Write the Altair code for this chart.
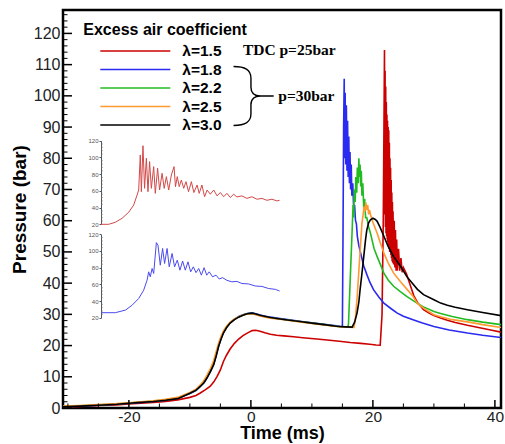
import altair as alt
import pandas as pd

# ---------------- data ----------------
series_names = ["λ=1.5", "λ=1.8", "λ=2.2", "λ=2.5", "λ=3.0"]
series_colors = ["#cc0000", "#2a2af0", "#22bb22", "#ff9a30", "#000000"]

# shared time base (ms) for the compression part of the lean cases
t_lean_base = [-30.8, -28, -25, -22, -20, -18, -16, -14, -12, -10, -9, -8.3, -7.7, -7.2, -6.6,
               -6.1, -5.7, -5.3, -4.9, -4.5, -4.0, -3.4, -2.7, -2.0, -1.3, -0.6, 0.2, 0.8, 1.5,
               2.2, 3.2, 4.5, 6.0, 8.0, 10.0, 12.0, 14.0]

# lambda = 1.5 (TDC p = 25 bar)
t_15 = [-30.8, -28, -25, -22, -20, -18, -16, -14, -12, -10, -9, -8.3, -7.5, -6.7, -6.1, -5.6,
        -5.0, -4.5, -4.0, -3.4, -2.7, -2.0, -1.3, -0.6, 0.2, 0.8, 1.5, 2.3, 3.2, 4.2, 5.4, 7.0,
        8.5, 10.8, 12.5, 14.5, 16.3, 18.0, 19.5, 20.5, 21.2, 21.5, 21.7, 21.85, 21.9,
        21.95, 22.0, 22.05, 22.1, 22.15, 22.2, 22.25, 22.3, 22.35, 22.4, 22.45, 22.5, 22.55,
        22.6, 22.65, 22.7, 22.75, 22.8, 22.85, 22.9, 22.95, 23.0, 23.05, 23.1, 23.15, 23.2,
        23.25, 23.3, 23.4, 23.5, 23.6, 23.7, 23.8, 23.9, 24.0, 24.2, 24.4, 24.6, 24.8, 25.0,
        25.5, 26.1, 26.7, 27.3, 28.3, 29.2, 30.0, 31.1, 32.2, 33.5, 35.5, 37.5, 39.5, 41.0]
p_15 = [0.3, 0.5, 0.8, 1.0, 1.3, 1.5, 1.8, 2.1, 2.6, 3.4, 4.0, 4.8, 5.8, 6.9, 8.3, 9.9,
        12.2, 14.9, 16.9, 18.9, 20.7, 22.1, 23.2, 24.0, 24.8, 24.9, 24.6, 24.1, 23.6, 23.3, 23.1, 22.8,
        22.5, 22.1, 21.8, 21.4, 21.0, 20.7, 20.4, 20.2, 20.1, 30, 60, 100, 114.7,
        62, 108, 58, 103, 56, 98, 55, 94, 54, 92, 53, 90, 52,
        89, 51, 85, 50, 80, 50, 77, 49, 73, 48, 69, 47, 66,
        46.5, 63, 46, 60, 45, 57, 44, 54, 44, 51, 44, 48, 43.5, 45,
        43, 39.5, 36, 33.8, 31.5, 30.4, 29.6, 28.8, 28.1, 27.4, 26.5, 25.7, 24.9, 24.3]

# lambda = 1.8
t_18 = t_lean_base + [14.6, 15.0, 15.1, 15.2, 15.3, 15.35, 15.45, 15.55, 15.65, 15.75, 15.85,
                      15.95, 16.05, 16.15, 16.25, 16.35, 16.45, 16.55, 16.7, 16.85, 17.0, 17.15,
                      17.3, 17.45, 17.7, 18.0, 18.5, 19.0, 19.5, 20.1, 21.0, 21.8, 23.0, 24.0,
                      25.0, 26.7, 28.0, 30.0, 32.5, 35.5, 38.0, 41.0]
p_18 = [0.4, 0.6, 0.9, 1.2, 1.5, 1.8, 2.1, 2.5, 3.1, 4.6, 5.6, 6.9, 8.1, 9.7, 11.8,
        14.0, 16.8, 19.8, 22.2, 24.2, 25.9, 27.3, 28.4, 29.3, 29.9, 30.3, 30.5, 30.2, 29.8,
        29.5, 29.1, 28.7, 28.3, 27.8, 27.3, 26.8, 26.3] + \
       [26.1, 26.0, 55, 90, 105.5, 80, 101, 78, 97, 76, 92,
        74, 87, 72, 82, 70, 78, 68, 72, 64, 65, 60,
        59, 55, 52, 49.5, 45.5, 42.8, 40.3, 37.9, 35.5, 33.6, 31.8, 30.4,
        29.4, 28.2, 27.3, 26.1, 25.0, 24.0, 23.3, 22.6]

# lambda = 2.2
t_22 = t_lean_base + [15.0, 15.9, 16.0, 16.2, 16.4, 16.6, 16.75, 16.85, 16.95, 17.1,
                      17.2, 17.35, 17.45, 17.6, 17.7, 17.8, 17.9, 18.0, 18.1, 18.2,
                      18.35, 18.5, 18.65, 18.8, 19.0, 19.3, 19.6, 20.2, 20.7, 21.8,
                      22.5, 23.4, 24.5, 25.6, 27.3, 28.3, 30.0, 31.1, 33.0, 35.5, 38.0, 41.0]
p_22 = [0.5, 0.7, 1.0, 1.3, 1.6, 1.9, 2.2, 2.6, 3.2, 4.7, 5.7, 7.0, 8.3, 9.9, 12.0,
        14.3, 17.1, 20.1, 22.4, 24.3, 25.9, 27.3, 28.4, 29.2, 29.8, 30.2, 30.3, 30.0, 29.6,
        29.3, 28.9, 28.6, 28.2, 27.7, 27.2, 26.7, 26.2] + \
       [26.0, 25.9, 27, 37, 47, 57, 65, 61, 70, 66,
        74, 69, 77, 72, 80, 74, 78, 71, 76, 68,
        72, 64, 67, 61, 61, 58, 56, 51, 48.5, 43.2,
        41, 39, 37.3, 35.7, 33.5, 32.4, 30.9, 30.3, 29.3, 28.3, 27.5, 26.7]

# lambda = 2.5
t_25 = t_lean_base + [16.0, 16.9, 17.1, 17.4, 17.7, 18.0, 18.2, 18.4, 18.55, 18.7,
                      18.85, 19.0, 19.15, 19.3, 19.45, 19.6, 20.0, 20.7, 21.2, 21.8,
                      22.5, 23.4, 24.5, 25.6, 26.5, 27.3, 28.3, 30.0, 31.1, 33.0,
                      35.5, 38.0, 41.0]
p_25 = [0.6, 0.8, 1.1, 1.4, 1.7, 2.0, 2.3, 2.8, 3.4, 5.0, 6.0, 7.4, 8.8, 10.5, 12.8,
        15.2, 18.0, 20.8, 23.0, 24.7, 26.2, 27.5, 28.5, 29.2, 29.8, 30.1, 30.2, 29.9, 29.5,
        29.2, 28.8, 28.5, 28.1, 27.6, 27.1, 26.6, 26.1] + \
       [25.9, 25.8, 28, 35, 44, 53, 59, 62, 64.5, 63,
        65.8, 63.5, 65, 62, 63.5, 62, 59.5, 56, 53, 49.6,
        46.5, 43.2, 40.5, 38, 36, 33.5, 32, 29.9, 29.2, 28.3,
        27.6, 26.7, 25.8]

# lambda = 3.0
t_30 = t_lean_base + [15.5, 16.6, 17.0, 17.4, 17.7, 17.9, 18.2, 18.5, 18.8, 19.0,
                      19.3, 19.6, 20.0, 20.4, 20.7, 21.2, 21.8, 22.5, 23.4, 24.5,
                      25.6, 27.3, 28.3, 30.0, 31.1, 32.2, 33.5, 35.5, 38.0, 41.0]
p_30 = [0.4, 0.6, 0.9, 1.2, 1.5, 1.8, 2.1, 2.5, 3.0, 4.7, 5.7, 6.9, 8.1, 9.6, 11.8,
        13.9, 16.6, 19.7, 22.0, 24.0, 25.7, 27.2, 28.3, 29.1, 29.7, 30.2, 30.4, 30.1, 29.7,
        29.4, 29.0, 28.6, 28.2, 27.7, 27.2, 26.7, 26.2] + \
       [26.0, 25.9, 27.5, 30.4, 34, 37.9, 43, 48.5, 54, 57,
        59.3, 60.3, 60.8, 60.4, 59.8, 57.8, 55, 51.8, 48.5, 45.5,
        42, 38, 36.3, 34.7, 33.6, 32.9, 32.3, 31.5, 30.6, 29.6]

# insets: normalised time (0-100) and pressure (bar)
inset1_u = [0, 4.3, 8, 11.8, 15.5, 18.3, 20.2, 21.1, 22, 22.6, 23.5, 24.4, 25.4, 26.3, 27.2,
            28.2, 29.5, 30.4, 31.7, 32.8, 34.2, 35.4, 36.6, 37.9, 39.4, 40.9, 41.7, 42.7, 43.8,
            45, 46.3, 47.6, 49, 50.6, 52, 53.8, 55, 56.5, 58, 59.4, 61.2, 63.1, 65, 66.8, 68.7,
            70.5, 72.4, 74.3, 76.1, 78.9, 81.7, 84.5, 87.3, 90.1, 92.9, 95.7, 98.5, 100]
inset1_p = [20, 20, 22.4, 27.2, 34.4, 43, 55, 61, 103, 59, 114, 63, 99, 59, 95,
            63, 89, 57, 87, 61, 81, 63, 77, 61, 79, 89, 65, 77, 65,
            73, 63, 71, 59, 71, 58, 67, 57, 67, 53, 61, 56, 61, 54, 58, 53,
            57, 52, 56, 52.7, 54, 51, 53, 50, 51, 48.7, 50, 48, 48.7]

inset2_u = [0, 8, 13.8, 17.4, 21.1, 23.9, 25.8, 26.7, 27.6, 28.6, 29.5, 31, 31.9, 33.2, 34.5,
            35.6, 37, 38.2, 39.8, 41.2, 42.7, 44.2, 45.7, 47.2, 48.7, 50.2, 51.7, 53.2, 54.7,
            56.2, 57.7, 59.2, 60.6, 62.5, 64.4, 66.2, 68.1, 70.5, 73.3, 76.1, 78.9, 82.6, 86.4,
            90.1, 93.8, 97.6, 100]
inset2_p = [26, 26, 29.2, 35, 43, 53, 65, 75, 69, 79, 73, 110, 107, 83, 103,
            85, 103, 81, 97, 81, 89, 77, 88, 77, 87, 75, 81, 74, 79,
            71, 80, 71, 75, 69, 71, 66.4, 68, 64.8, 63, 63.5, 61, 60.5, 58,
            57.5, 55, 54, 52]

# tick values
y_major = [0, 10, 20, 30, 40, 50, 60, 70, 80, 90, 100, 110, 120]
y_minor = [v for v in range(2, 127, 2) if v % 10 != 0]
x_major = [-20, 0, 20, 40]
x_minor = [-30, -25, -15, -10, -5, 5, 10, 15, 25, 30, 35]
inset_major = [20, 40, 60, 80, 100, 120]
inset_minor = [v for v in range(24, 120, 4) if v % 20 != 0]

# ---------------- tables ----------------
rows = []
for name, ts, ps in zip(series_names, [t_15, t_18, t_22, t_25, t_30],
                        [p_15, p_18, p_22, p_25, p_30]):
    for i, (t, p) in enumerate(zip(ts, ps)):
        rows.append({"series": name, "t": t, "p": p, "i": i})
df_main = pd.DataFrame(rows)
df_in1 = pd.DataFrame({"u": inset1_u, "p": inset1_p, "i": range(len(inset1_u))})
df_in2 = pd.DataFrame({"u": inset2_u, "p": inset2_p, "i": range(len(inset2_u))})

W, H = 438, 398
FONT = "Liberation Sans"

main_x = alt.Scale(domain=[-30.8, 41.0], nice=False, zero=False)
main_y = alt.Scale(domain=[0, 127.5], nice=False, zero=False)
color_scale = alt.Scale(domain=series_names, range=series_colors)

x_axis = alt.Axis(values=x_major, ticks=False, domain=False, grid=False,
                  labelFontSize=15.5, labelFont=FONT, labelColor="#222",
                  labelPadding=1, labelExpr="'' + datum.value",
                  title="Time (ms)", titleFont=FONT, titleFontSize=18,
                  titleFontWeight="bold", titleColor="#000", titlePadding=0)
y_axis = alt.Axis(values=y_major, ticks=False, domain=False, grid=False,
                  labelFontSize=16, labelFont=FONT, labelColor="#222",
                  labelPadding=3, title="Pressure (bar)", titleFont=FONT,
                  titleFontSize=19, titleFontWeight="bold", titleColor="#000",
                  titlePadding=4)

lines = alt.Chart(df_main).mark_line(strokeWidth=1.6, clip=True).encode(
    x=alt.X("t:Q", scale=main_x, axis=x_axis),
    y=alt.Y("p:Q", scale=main_y, axis=y_axis),
    color=alt.Color("series:N", scale=color_scale, legend=None),
    order=alt.Order("i:Q"),
)

ytick_major = alt.Chart(pd.DataFrame({"v": y_major})).mark_rule(color="black", strokeWidth=1.5).encode(
    y=alt.Y("v:Q", scale=main_y, axis=y_axis), x=alt.value(0), x2=alt.value(9))
ytick_minor = alt.Chart(pd.DataFrame({"v": y_minor})).mark_rule(color="black", strokeWidth=1).encode(
    y=alt.Y("v:Q", scale=main_y, axis=y_axis), x=alt.value(0), x2=alt.value(4.5))
xtick_major = alt.Chart(pd.DataFrame({"v": x_major})).mark_rule(color="black", strokeWidth=1.5).encode(
    x=alt.X("v:Q", scale=main_x, axis=x_axis), y=alt.value(H), y2=alt.value(H - 8))
xtick_minor = alt.Chart(pd.DataFrame({"v": x_minor})).mark_rule(color="black", strokeWidth=1).encode(
    x=alt.X("v:Q", scale=main_x, axis=x_axis), y=alt.value(H), y2=alt.value(H - 4.5))

main = alt.layer(lines, ytick_major, ytick_minor, xtick_major, xtick_minor)


def inset(df, color, y_range):
    xs = alt.Scale(domain=[0, 100], range=[38, 216.6], nice=False, zero=False)
    ys = alt.Scale(domain=[20, 120], range=y_range, nice=False, zero=False)
    in_axis = alt.Axis(orient="left", offset=-38, values=inset_major, grid=False,
                       labelFontSize=6, labelFont=FONT, labelColor="#555",
                       labelPadding=1, tickSize=2, tickColor="#555",
                       domainColor="#555", domainWidth=1, title=None)
    line = alt.Chart(df).mark_line(color=color, strokeWidth=1).encode(
        x=alt.X("u:Q", scale=xs, axis=None),
        y=alt.Y("p:Q", scale=ys, axis=in_axis),
        order=alt.Order("i:Q"),
    )
    minor = alt.Chart(pd.DataFrame({"v": inset_minor})).mark_rule(color="#777", strokeWidth=0.6).encode(
        y=alt.Y("v:Q", scale=ys, axis=in_axis), x=alt.value(38), x2=alt.value(40))
    return alt.layer(line, minor)


inset1 = inset(df_in1, "#d44848", [214.3, 130.7])
inset2 = inset(df_in2, "#4a4aee", [307.7, 224.3])

# legend built from the series
leg_y = alt.Scale(type="point", domain=series_names, range=[41, 115], padding=0)
df_leg = pd.DataFrame({"series": series_names})
leg_lines = alt.Chart(df_leg).mark_rule(strokeWidth=1.6).encode(
    y=alt.Y("series:N", scale=leg_y, axis=None),
    x=alt.value(37.3), x2=alt.value(107.3),
    color=alt.Color("series:N", scale=color_scale, legend=None))
leg_text = alt.Chart(df_leg).mark_text(align="left", baseline="middle", font=FONT,
                                       fontWeight="bold", fontSize=15.5, color="black").encode(
    y=alt.Y("series:N", scale=leg_y, axis=None), x=alt.value(119.3), text="series:N")
legend = alt.layer(leg_lines, leg_text)

leg_title = alt.Chart(pd.DataFrame({"s": ["Excess air coefficient"]})).mark_text(
    align="left", baseline="middle", font=FONT, fontWeight="bold", fontSize=16, color="black"
).encode(x=alt.value(20.3), y=alt.value(20), text="s:N")

tdc = alt.Chart(pd.DataFrame({"s": ["TDC p=25bar"]})).mark_text(
    align="center", baseline="middle", font="Liberation Serif", fontWeight="bold",
    fontSize=15.5, color="black").encode(x=alt.value(226.3), y=alt.value(40), text="s:N")
p30 = alt.Chart(pd.DataFrame({"s": ["p=30bar"]})).mark_text(
    align="left", baseline="middle", font="Liberation Serif", fontWeight="bold",
    fontSize=15.5, color="black").encode(x=alt.value(215.3), y=alt.value(86), text="s:N")

brace_path = ("M-0.68,-1 C-0.3,-1 -0.09,-0.9 -0.09,-0.6 L-0.09,-0.3 C-0.09,-0.08 0.05,0 0.23,0 "
              "L0.68,0 M0.23,0 C0.05,0 -0.09,0.08 -0.09,0.3 L-0.09,0.6 C-0.09,0.9 -0.3,1 -0.68,1")
brace = alt.Chart(pd.DataFrame({"s": ["brace"]})).mark_point(
    shape=brace_path, size=3481, filled=False, color="black", strokeWidth=1.4, opacity=1
).encode(x=alt.value(190.6), y=alt.value(86))

chart = alt.layer(main, inset1, inset2, legend, leg_title, tdc, p30, brace).resolve_scale(
    x="independent", y="independent"
).properties(
    width=W, height=H,
    padding={"left": 63, "top": 10, "right": 4, "bottom": 36},
    autosize=alt.AutoSizeParams(type="none"),
).configure(font=FONT, background="white").configure_view(stroke="black", strokeWidth=2.5)

chart.save("out.html", embed_options={"renderer": "svg", "actions": False})
